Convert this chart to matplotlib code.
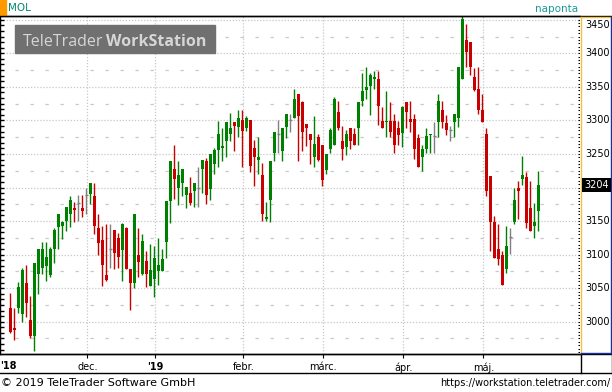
import matplotlib
matplotlib.use('Agg')
import matplotlib.pyplot as plt
from matplotlib.lines import Line2D
from matplotlib.patches import Rectangle

plt.rcParams['lines.scale_dashes'] = False
plt.rcParams['font.family'] = 'DejaVu Sans'

# MOL daily candles, one entry per trading day (Nov 2018 - May 2019)
opens = [3021, 2990, 3020, 3012, 3058, 3003, 2979, 3071, 3080, 3083,
         3070, 3109, 3141, 3142, 3150, 3160, 3170, 3177, 3170, 3189,
         3190, 3188, 3140, 3122, 3070, 3108, 3137, 3125, 3107, 3140,
         3078, 3058, 3099, 3071, 3090, 3053, 3064, 3075, 3075, 3119,
         3180, 3228, 3200, 3206, 3189, 3192, 3195, 3199, 3228, 3239,
         3198, 3235, 3256, 3259, 3269, 3280, 3297, 3290, 3300, 3288,
         3300, 3259, 3241, 3219, 3153, 3181, 3252, 3280, 3254, 3290,
         3300, 3304, 3340, 3328, 3294, 3280, 3246, 3276, 3264, 3226,
         3258, 3263, 3312, 3270, 3260, 3289, 3280, 3288, 3329, 3346,
         3351, 3361, 3361, 3299, 3298, 3299, 3299, 3289, 3281, 3328,
         3302, 3302, 3274, 3245, 3258, 3278, 3277, 3297, 3316, 3296,
         3286, 3297, 3303, 3361, 3420, 3417, 3364, 3347, 3316, 3280,
         3217, 3149, 3109, 3100, 3079, 3127, 3149, 3200, 3212, 3216,
         3170, 3143, 3165]
highs = [3043, 3021, 3059, 3080, 3084, 3039, 3088, 3109, 3119, 3119,
         3112, 3140, 3160, 3150, 3171, 3188, 3178, 3189, 3189, 3200,
         3206, 3206, 3160, 3142, 3146, 3146, 3137, 3132, 3147, 3141,
         3078, 3161, 3140, 3130, 3105, 3116, 3113, 3125, 3108, 3180,
         3239, 3263, 3239, 3228, 3201, 3216, 3206, 3230, 3241, 3244,
         3250, 3259, 3299, 3289, 3298, 3311, 3297, 3315, 3316, 3306,
         3300, 3271, 3276, 3236, 3178, 3240, 3283, 3300, 3288, 3310,
         3310, 3347, 3340, 3329, 3294, 3280, 3306, 3280, 3264, 3250,
         3288, 3335, 3329, 3292, 3286, 3289, 3289, 3328, 3370, 3380,
         3370, 3374, 3374, 3320, 3344, 3328, 3310, 3299, 3322, 3328,
         3329, 3310, 3280, 3264, 3289, 3280, 3298, 3340, 3329, 3308,
         3292, 3310, 3380, 3455, 3443, 3417, 3378, 3380, 3340, 3289,
         3217, 3158, 3146, 3106, 3143, 3140, 3200, 3210, 3247, 3223,
         3210, 3177, 3225]
lows = [2983, 2973, 3013, 3000, 3007, 2976, 2956, 3042, 3071, 3061,
        3067, 3088, 3109, 3123, 3135, 3141, 3148, 3150, 3156, 3160,
        3176, 3130, 3100, 3053, 3061, 3080, 3079, 3080, 3061, 3079,
        3018, 3050, 3066, 3070, 3052, 3053, 3037, 3055, 3075, 3095,
        3147, 3183, 3174, 3188, 3170, 3174, 3171, 3171, 3192, 3176,
        3182, 3220, 3231, 3239, 3246, 3269, 3254, 3276, 3230, 3284,
        3223, 3202, 3220, 3150, 3150, 3148, 3239, 3252, 3239, 3274,
        3282, 3303, 3240, 3254, 3262, 3235, 3230, 3240, 3202, 3220,
        3251, 3263, 3285, 3241, 3248, 3258, 3263, 3264, 3322, 3332,
        3308, 3347, 3293, 3288, 3276, 3276, 3251, 3263, 3260, 3289,
        3283, 3242, 3230, 3225, 3251, 3252, 3252, 3275, 3288, 3278,
        3269, 3275, 3290, 3361, 3380, 3368, 3344, 3310, 3297, 3188,
        3106, 3095, 3085, 3055, 3073, 3101, 3146, 3153, 3204, 3140,
        3135, 3125, 3135]
closes = [2985, 2988, 3052, 3077, 3028, 2978, 3088, 3108, 3109, 3096,
          3109, 3137, 3160, 3148, 3171, 3181, 3166, 3177, 3165, 3189,
          3206, 3143, 3117, 3084, 3062, 3108, 3103, 3096, 3145, 3079,
          3058, 3160, 3089, 3121, 3071, 3077, 3095, 3084, 3093, 3180,
          3239, 3212, 3218, 3228, 3201, 3177, 3206, 3199, 3241, 3189,
          3250, 3256, 3280, 3262, 3298, 3289, 3292, 3303, 3284, 3303,
          3232, 3246, 3246, 3160, 3156, 3239, 3283, 3280, 3288, 3310,
          3300, 3332, 3306, 3282, 3289, 3271, 3265, 3241, 3211, 3250,
          3286, 3332, 3289, 3258, 3280, 3270, 3263, 3328, 3344, 3350,
          3367, 3364, 3321, 3289, 3299, 3282, 3264, 3278, 3320, 3312,
          3298, 3257, 3230, 3258, 3277, 3280, 3277, 3329, 3298, 3286,
          3286, 3310, 3380, 3451, 3402, 3380, 3346, 3316, 3297, 3195,
          3149, 3095, 3094, 3055, 3113, 3127, 3182, 3195, 3219, 3147,
          3135, 3149, 3204]

# first trading day (candle number) of each month and its label
month_first = [1, 21, 38, 60, 80, 100, 120]
month_labels = ["'18", 'dec.', "'19", 'febr.', 'márc.', 'ápr.', 'máj.']
month_bold = [True, False, True, False, False, False, False]
price_ticks = [3000, 3050, 3100, 3150, 3200, 3250, 3300, 3350, 3400, 3450]

GREEN, RED, GRAY = '#008000', '#c80000', '#808080'
GRID = '#c8c8c8'
W, H = 612, 392


def fx(px):
    return px / W


def fy(py):
    return 1 - py / H


fig = plt.figure(figsize=(W / 100, H / 100), dpi=100)
ax = fig.add_axes([0, fy(354), fx(580), (354 - 16) / H])
ax.set_xlim(-1.575, 143.425)
ax.set_ylim(2951.9, 3455.6)

# grid
for v in price_ticks:
    ax.axhline(v, color=GRID, lw=0.9, ls=(0, (0.9, 1.3)), zorder=0)
    ax.axhline(v - 25, color=GRID, lw=0.9, ls=(0, (2.4, 8.4)), zorder=0)
for m in month_first[1:]:
    ax.axvline(m - 0.75, color=GRID, lw=0.9, ls=(0, (0.9, 1.3)), zorder=0)

# candles
for i, (o, h, l, c) in enumerate(zip(opens, highs, lows, closes)):
    n = i + 1
    col = GREEN if c > o else (RED if c < o else GRAY)
    ax.vlines(n, l, h, color=col, lw=1.0, zorder=2)
    if c == o:
        ax.hlines(o, n - 0.45, n + 0.45, color=col, lw=1.0, zorder=3)
    else:
        ax.bar(n, abs(c - o), bottom=min(o, c), width=0.85, color=col,
               linewidth=0, zorder=3)

# axis frame and ticks
ax.spines['right'].set_visible(False)
for s in ['left', 'top', 'bottom']:
    ax.spines[s].set_color('black')
    ax.spines[s].set_linewidth(1.0)
ax.set_yticks([])
ax.set_xticks([m - 0.75 for m in month_first[1:]])
ax.set_xticklabels(month_labels[1:])
for lab, b in zip(ax.get_xticklabels(), month_bold[1:]):
    lab.set_fontweight('bold' if b else 'normal')
ax.tick_params(axis='x', direction='out', length=3, width=0.8, pad=3,
               labelsize=7, colors='black')
# first label sits at the very left edge
fig.text(fx(0.5), fy(366), month_labels[0], fontsize=7, ha='left', va='center',
         fontweight='bold' if month_bold[0] else 'normal')

ytr = ax.get_yaxis_transform()
left_ticks = [3000 + k * 50 / 6 for k in range(-5, 55)]
left_ticks = [v for v in left_ticks if 2952 < v < 3455]
ax.hlines(left_ticks, 0, 3.5 / 580, transform=ytr, color='black', lw=1.0, zorder=4)
right_ticks = [2955 + 5 * k for k in range(100) if 2955 + 5 * k < 3455]
ax.hlines(right_ticks, 1 - 2.5 / 580, 1, transform=ytr, color='black', lw=0.8, zorder=4)

# right price panel
ylo, yhi = ax.get_ylim()


def ypx(v):
    return 16 + (yhi - v) * 338 / (yhi - ylo)


last = closes[-1]
for v in price_ticks:
    if abs(ypx(v) - ypx(last)) < 10:
        continue
    fig.text(fx(585), fy(max(ypx(v), 25)), str(v), fontsize=7, ha='left',
             va='center', color='black')
fig.text(fx(584), fy(ypx(last)), str(last), fontsize=7, ha='left', va='center',
         color='white', bbox=dict(boxstyle='square,pad=0.2', fc='black', ec='none'))

lines = [
    ((0, 611.5), (15.5, 15.5), 'black'),
    ((0, 612), (354, 354), 'black'),
    ((0, 612), (373, 373), 'black'),
    ((611.5, 611.5), (15.5, 373), 'black'),
    ((580.5, 580.5), (354, 373), 'black'),
    ((580.5, 580.5), (17, 353), '#f0c040'),
    ((580.5, 610.5), (17, 17), '#f0c040'),
    ((610.5, 610.5), (17, 353), '#1830a0'),
    ((580.5, 610.5), (352.5, 352.5), '#1830a0'),
]
for xs, ys, col in lines:
    fig.add_artist(Line2D([fx(x) for x in xs], [fy(y) for y in ys], color=col,
                          lw=1.0, transform=fig.transFigure))

# header
fig.add_artist(Rectangle((0, fy(15)), fx(5.5), 15 / H, color='#ff9900',
                         transform=fig.transFigure))
fig.text(fx(8), fy(8), 'MOL', fontsize=7.5, color='#00876e', ha='left', va='center')
fig.text(fx(557), fy(9), 'naponta', fontsize=7.5, color='#1a9a9a', ha='center', va='center')

# watermark
fig.add_artist(Rectangle((fx(15), fy(53)), fx(200), 28 / H, color='#707070',
                         transform=fig.transFigure, zorder=5))
fig.text(fx(23), fy(45.5), 'TeleTrader', fontsize=11.5, family='Open Sans',
         color='#d6d6d6', ha='left', va='baseline', zorder=6)
fig.text(fx(106), fy(45.5), 'WorkStation', fontsize=11.5, family='Open Sans',
         fontweight='bold', color='#d6d6d6', ha='left', va='baseline', zorder=6)

# footer
fig.text(fx(1), fy(383), '© 2019 TeleTrader Software GmbH', fontsize=8,
         ha='left', va='center', color='black')
fig.text(fx(610), fy(383), 'https://workstation.teletrader.com/', fontsize=7,
         ha='right', va='center', color='black')

fig.savefig('out.png', dpi=100)
